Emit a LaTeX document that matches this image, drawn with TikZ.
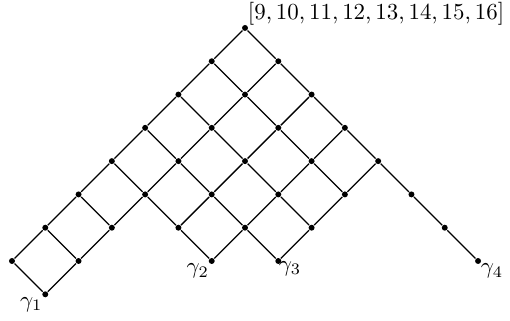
\documentclass[tikz,border=0pt]{standalone}
\usepackage{amsmath,amssymb}
\usepackage{tikz}
\usetikzlibrary{positioning}

\begin{document}
\begin{tikzpicture}[x=0.51cm, y=0.51cm, line width=0.55pt,
    dot/.style={circle, fill=black, inner sep=0pt, minimum size=2.6pt},
    tag/.style={inner sep=1pt}]
    \useasboundingbox (-7.36,0.84) rectangle (7.96,-8.80);

    % Lattice points p-a-b (a steps down-left, b steps down-right)
    \foreach \a/\m in {0/7,1/4,2/4,3/4,4/3,5/1,6/1,7/1}
      \foreach \b in {0,...,\m}
        \node[dot] (p-\a-\b) at ({\b-\a},{-\a-\b}) {};

    % Down-right edges
    \foreach \a/\m in {0/7,1/4,2/4,3/4,4/3,5/1,6/1,7/1}
      \foreach \b in {1,...,\m} {
        \pgfmathtruncatemacro{\c}{\b-1}
        \draw (p-\a-\c) -- (p-\a-\b);
      }

    % Down-left edges
    \foreach \b/\m in {0/7,1/7,2/4,3/4,4/3}
      \foreach \a in {1,...,\m} {
        \pgfmathtruncatemacro{\c}{\a-1}
        \draw (p-\c-\b) -- (p-\a-\b);
      }

    % Labels
    \node[tag, anchor=south west] (top) at (p-0-0) {$[9,10,11,12,13,14,15,16]$};
    \node[tag, anchor=north east] (g1) at (p-7-1) {$\gamma_1$};
    \node[tag, anchor=north east] (g2) at (p-4-3) {$\gamma_2$};
    \node[tag, anchor=north west, inner sep=0pt] (g3) at (p-3-4) {$\gamma_3$};
    \node[tag, anchor=north west] (g4) at (p-0-7) {$\gamma_4$};
\end{tikzpicture}
\end{document}
